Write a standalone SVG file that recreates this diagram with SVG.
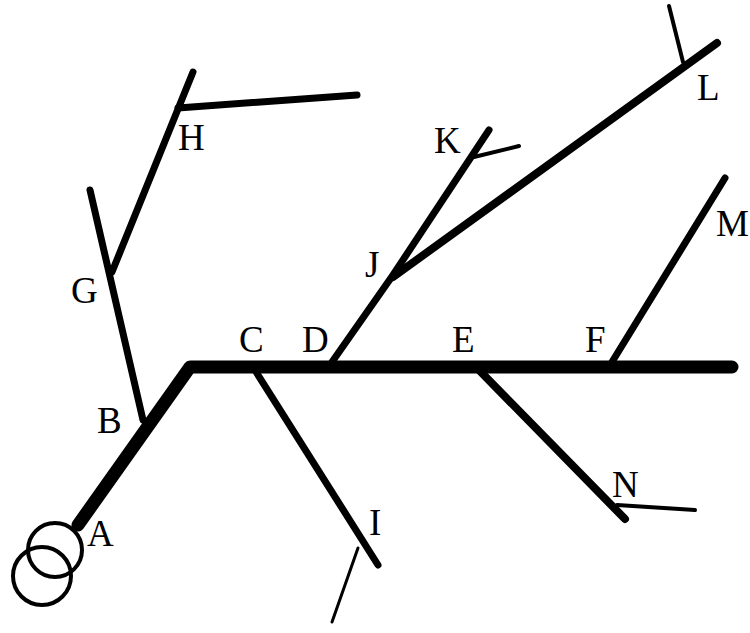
<svg xmlns="http://www.w3.org/2000/svg" width="750" height="633" viewBox="0 0 750 633">
<style>
.l{stroke:#000;stroke-linecap:round;stroke-linejoin:round;fill:none}
.t{font-family:"Liberation Serif",serif;font-size:37px;fill:#000}
</style>
<rect width="750" height="633" fill="#fff"/>
<g id="connectors">
<polyline class="l" points="78,525 190,367 732,367" stroke-width="13"/>
<line class="l" x1="90" y1="190" x2="143" y2="420" stroke-width="7"/>
<line class="l" x1="193" y1="72" x2="112" y2="272" stroke-width="7"/>
<line class="l" x1="178" y1="108" x2="357" y2="95" stroke-width="7"/>
<line class="l" x1="253" y1="367" x2="378" y2="565" stroke-width="7"/>
<line class="l" x1="358" y1="548" x2="332" y2="622" stroke-width="3"/>
<polyline class="l" points="332,362 393,275 489,130" stroke-width="7"/>
<line class="l" x1="474" y1="157" x2="519" y2="146" stroke-width="4"/>
<line class="l" x1="393" y1="277" x2="717" y2="43" stroke-width="8"/>
<line class="l" x1="669" y1="6" x2="683" y2="62" stroke-width="4"/>
<line class="l" x1="612" y1="362" x2="725" y2="178" stroke-width="7"/>
<line class="l" x1="476" y1="367" x2="625" y2="519" stroke-width="8"/>
<line class="l" x1="617" y1="505" x2="695" y2="510" stroke-width="4"/>
</g>
<g id="source">
<circle cx="55" cy="550" r="27" fill="none" stroke="#000" stroke-width="4"/>
<circle cx="42" cy="576" r="29" fill="none" stroke="#000" stroke-width="4"/>
</g>
<g id="A"><text class="t" x="87" y="546">A</text></g>
<g id="B"><text class="t" x="97" y="433">B</text></g>
<g id="C"><text class="t" x="239" y="352">C</text></g>
<g id="D"><text class="t" x="302" y="352">D</text></g>
<g id="E"><text class="t" x="452" y="352">E</text></g>
<g id="F"><text class="t" x="585" y="352">F</text></g>
<g id="G"><text class="t" x="71" y="303">G</text></g>
<g id="H"><text class="t" x="178" y="150">H</text></g>
<g id="I"><text class="t" x="369" y="535">I</text></g>
<g id="J"><text class="t" x="365" y="277">J</text></g>
<g id="K"><text class="t" x="434" y="153">K</text></g>
<g id="L"><text class="t" x="697" y="100">L</text></g>
<g id="M"><text class="t" x="716" y="236">M</text></g>
<g id="N"><text class="t" x="612" y="497">N</text></g>
</svg>
